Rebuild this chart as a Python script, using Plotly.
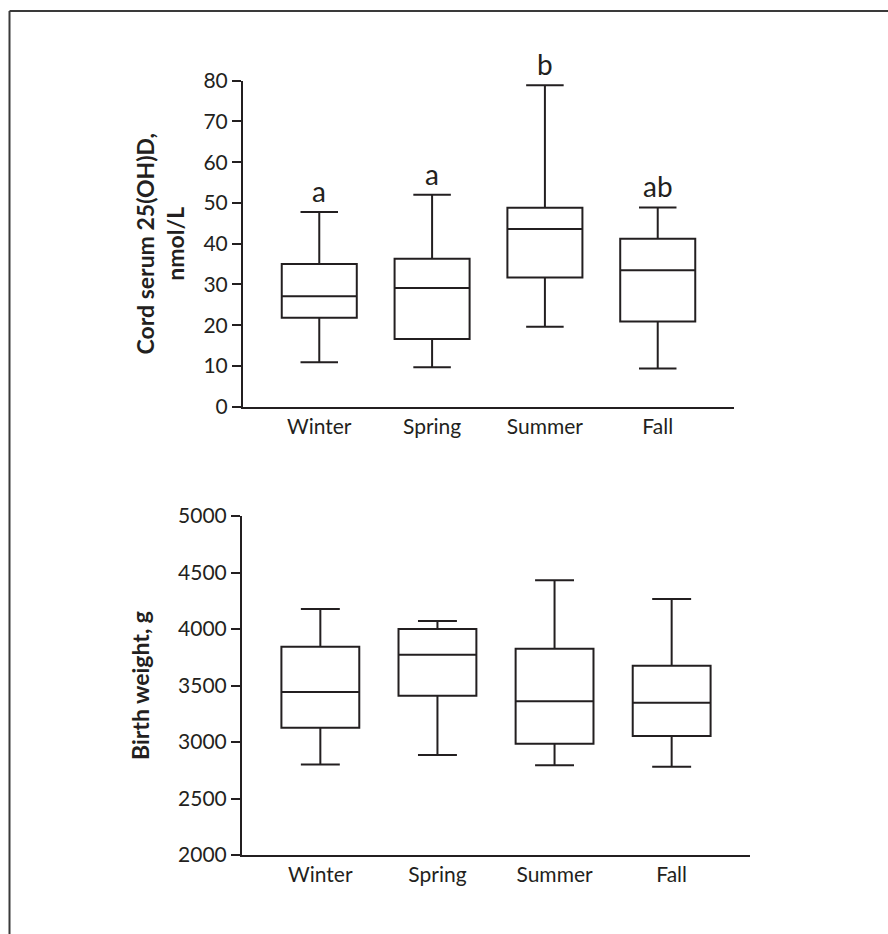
import plotly.graph_objects as go

seasons = ["Winter", "Spring", "Summer", "Fall"]

# Cord serum 25(OH)D, nmol/L
vitd_lower = [10.9, 9.7, 19.6, 9.4]
vitd_q1 = [21.8, 16.6, 31.7, 20.9]
vitd_median = [27.1, 29.1, 43.6, 33.5]
vitd_q3 = [35.0, 36.3, 48.8, 41.2]
vitd_upper = [47.8, 52.0, 78.9, 48.9]
vitd_letters = ["a", "a", "b", "ab"]

# Birth weight, g
bw_lower = [2800, 2885, 2795, 2780]
bw_q1 = [3127, 3410, 2985, 3053]
bw_median = [3442, 3773, 3360, 3348]
bw_q3 = [3843, 4000, 3826, 3675]
bw_upper = [4177, 4071, 4431, 4265]

W, H = 888, 934
INK = "#231f20"
FONT = "Lato"

fig = go.Figure()

box_style = dict(
    fillcolor="white",
    line=dict(color=INK, width=2),
    width=0.665,
    whiskerwidth=0.5,
    boxpoints=False,
    showlegend=False,
)

fig.add_trace(go.Box(x=seasons, q1=vitd_q1, median=vitd_median, q3=vitd_q3,
                     lowerfence=vitd_lower, upperfence=vitd_upper,
                     xaxis="x", yaxis="y", **box_style))
fig.add_trace(go.Box(x=seasons, q1=bw_q1, median=bw_median, q3=bw_q3,
                     lowerfence=bw_lower, upperfence=bw_upper,
                     xaxis="x2", yaxis="y2", **box_style))

for s, up, lab in zip(seasons, vitd_upper, vitd_letters):
    fig.add_annotation(x=s, y=up, xref="x", yref="y", text=lab, showarrow=False,
                       yanchor="bottom", yshift=2,
                       font=dict(family=FONT, size=28, color=INK))

xcommon = dict(type="category", categoryorder="array", categoryarray=seasons,
               showline=True, linewidth=2, linecolor=INK, ticks="",
               showgrid=False, zeroline=False, automargin=False,
               tickfont=dict(family=FONT, size=21, color=INK))
ycommon = dict(showline=True, linewidth=2, linecolor=INK, ticks="outside",
               ticklen=9, tickwidth=2, tickcolor=INK, showgrid=False, zeroline=False,
               automargin=False,
               tickfont=dict(family=FONT, size=21, color=INK))

fig.update_layout(
    width=W, height=H,
    margin=dict(l=0, r=0, t=0, b=0, pad=0, autoexpand=False),
    paper_bgcolor="white", plot_bgcolor="white",
    xaxis=dict(domain=[243 / W, 734 / W], range=[-0.676, 3.676], anchor="y", **xcommon),
    yaxis=dict(domain=[1 - 406.7 / H, 1 - 80.7 / H], range=[0, 80], dtick=10, anchor="x",
               title=dict(text="<b>Cord serum 25(OH)D,<br>nmol/L</b>", standoff=12,
                          font=dict(family=FONT, size=23, color=INK)),
               **ycommon),
    xaxis2=dict(domain=[242 / W, 750 / W], range=[-0.669, 3.669], anchor="y2", **xcommon),
    yaxis2=dict(domain=[1 - 855 / H, 1 - 516 / H], range=[2000, 5000], dtick=500, anchor="x2",
                title=dict(text="<b>Birth weight, g</b>", standoff=22,
                           font=dict(family=FONT, size=23, color=INK)),
                **ycommon),
    shapes=[
        dict(type="line", xref="paper", yref="paper", x0=9.5 / W, x1=1, y0=1 - 11 / H, y1=1 - 11 / H,
             line=dict(color="#3a3a3a", width=2)),
        dict(type="line", xref="paper", yref="paper", x0=9.5 / W, x1=9.5 / W, y0=0, y1=1 - 11 / H,
             line=dict(color="#3a3a3a", width=2)),
    ],
)

fig.write_html("out.html", config={"displayModeBar": False},
               post_script="document.body.style.margin='0';document.body.style.overflow='hidden';")
